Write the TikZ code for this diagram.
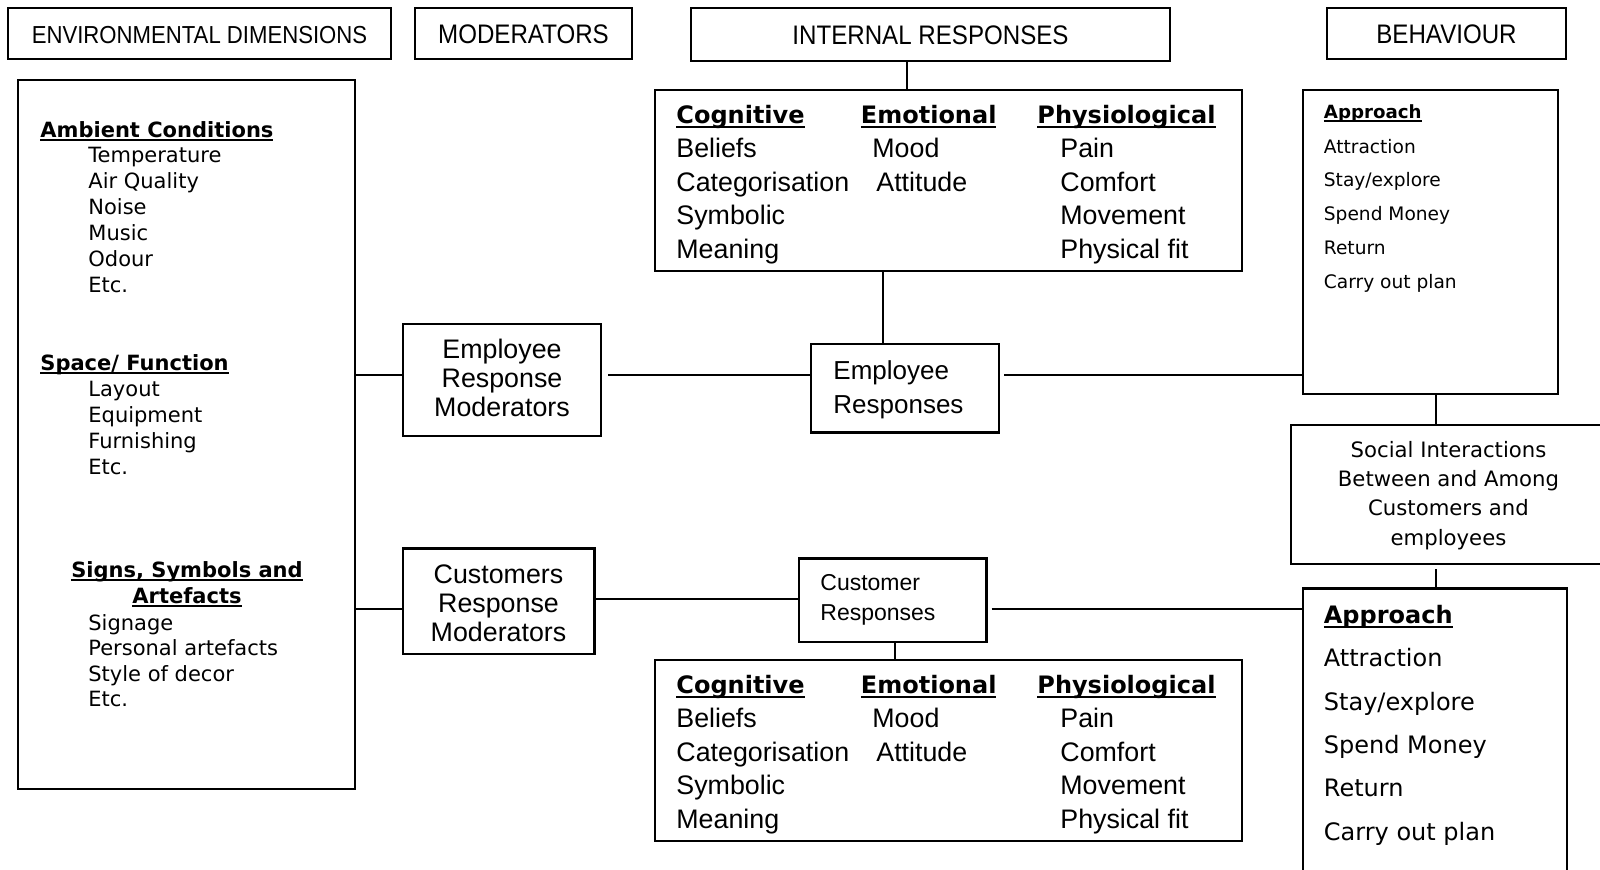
\documentclass[tikz,border=0pt]{standalone}
\usepackage{fontspec}
\setmainfont{DejaVu Sans}
\newfontfamily\arialf{Liberation Sans}
\newfontfamily\narrowf[FakeStretch=0.9]{Liberation Sans}
\usetikzlibrary{fit}
% underline drawn as a rule sized to the current font
\newcommand\ulbox[1]{\setbox0=\hbox{#1}\rlap{\rule[-0.17em]{\wd0}{0.085em}}\box0}
\newcommand\fs[1]{\fontsize{#1}{#1}\selectfont}
\begin{document}
\begin{tikzpicture}[x=0.5pt, y=-0.5pt,
  box/.style={draw, line width=1.1pt, inner sep=0pt},
  conn/.style={line width=1.1pt},
  lt/.style={inner sep=0pt, anchor=base west},
  ct/.style={inner sep=0pt, anchor=base},
  title/.style={ct, font=\narrowf\fs{13.4pt}},
  envhd/.style={lt, font=\bfseries\fs{10.5pt}},
  envit/.style={lt, font=\fs{10.5pt}},
  colhead/.style={lt, font=\bfseries\fs{12pt}},
  colitem/.style={lt, font=\arialf\fs{13.4pt}},
  modtxt/.style={ct, font=\arialf\fs{13.4pt}},
]
\useasboundingbox (0,0) rectangle (1600,869);
\clip (0,0) rectangle (1600,869);

% ---- column headers ----
\node[box, fit={(8,8) (391,59)}] (envhead) {};
\node[title, font=\narrowf\fs{12.3pt}] (envtitle) at (199.5,43) {ENVIRONMENTAL DIMENSIONS};
\node[box, fit={(415,8) (632,59)}] (modhead) {};
\node[title] (modtitle) at (523.5,43) {MODERATORS};
\node[box, fit={(691,8) (1170,61)}] (inthead) {};
\node[title] (inttitle) at (930.5,44) {INTERNAL RESPONSES};
\node[box, fit={(1327,8) (1566,59)}] (behhead) {};
\node[title] (behtitle) at (1446.5,43) {BEHAVIOUR};

% ---- environmental dimensions ----
\node[box, fit={(18,80) (355,789)}] (env) {};
\node[envhd] (ambhd) at (40,137) {\ulbox{Ambient Conditions}};
\foreach \t [count=\i from 0] in {Temperature, Air Quality, Noise, Music, Odour, Etc.}
  \node[envit] (amb\i) at (88,{162.7+25.9*\i}) {\t};
\node[envhd] (spchd) at (40,370.5) {\ulbox{Space/ Function}};
\foreach \t [count=\i from 0] in {Layout, Equipment, Furnishing, Etc.}
  \node[envit] (spc\i) at (88,{396.4+25.9*\i}) {\t};
\node[envhd, anchor=base] (sgnhd) at (187,577.5) {\ulbox{Signs, Symbols and}};
\node[envhd, anchor=base] (sgnhdb) at (187,603.3) {\ulbox{Artefacts}};
\foreach \t [count=\i from 0] in {Signage, Personal artefacts, Style of decor, Etc.}
  \node[envit] (sgn\i) at (88,{630+25.6*\i}) {\t};

% ---- moderators ----
\node[box, fit={(403,324) (601,436)}] (empmod) {};
\node[modtxt] (empmod0) at (502,358) {Employee};
\node[modtxt] (empmod1) at (502,387) {Response};
\node[modtxt] (empmod2) at (502,416) {Moderators};
\node[box, fit={(403,548.5) (594.5,654.3)}] (custmod) {};
\node[modtxt] (custmod0) at (498.5,583) {Customers};
\node[modtxt] (custmod1) at (498.5,612.5) {Response};
\node[modtxt] (custmod2) at (498.5,641.5) {Moderators};

% ---- responses ----
\node[box, fit={(811,344) (998.6,432.5)}] (empresp) {};
\node[lt, font=\arialf\fs{13pt}] (empresp0) at (833,379.5) {Employee};
\node[lt, font=\arialf\fs{13pt}] (empresp1) at (833,413) {Responses};
\node[box, fit={(799,558.5) (986.5,642.3)}] (custresp) {};
\node[lt, font=\arialf\fs{11.5pt}] (custresp0) at (820,590.5) {Customer};
\node[lt, font=\arialf\fs{11.5pt}] (custresp1) at (820,620) {Responses};

% ---- internal response tables ----
\foreach \o/\p in {0/top, 570/bot}{
  \node[box, fit={(655,{90+\o}) (1242,{271+\o})}] (int\p) {};
  \node[colhead] (cog\p) at (676,{123.5+\o}) {\ulbox{Cognitive}};
  \node[colhead] (emo\p) at (860.5,{123.5+\o}) {\ulbox{Emotional}};
  \node[colhead] (phy\p) at (1037,{123.5+\o}) {\ulbox{Physiological}};
  \foreach \t [count=\i from 0] in {Beliefs, Categorisation, Symbolic, Meaning}
    \node[colitem] (cogi\p\i) at (676,{157.5+\o+33.6*\i}) {\t};
  \node[colitem] (emoi\p0) at (872,{157.5+\o}) {Mood};
  \node[colitem] (emoi\p1) at (876,{191.1+\o}) {Attitude};
  \foreach \t [count=\i from 0] in {Pain, Comfort, Movement, Physical fit}
    \node[colitem] (phyi\p\i) at (1060,{157.5+\o+33.6*\i}) {\t};
}

% ---- behaviour ----
\node[box, fit={(1303,90) (1558,394)}] (apptop) {};
\node[lt, font=\bfseries\fs{9.1pt}] (apptophd) at (1323.5,118.5) {\ulbox{Approach}};
\foreach \t [count=\i from 0] in {Attraction, Stay/explore, Spend Money, Return, Carry out plan}
  \node[lt, font=\fs{9.3pt}] (apptop\i) at (1323.5,{153+33.8*\i}) {\t};

\node[box, fit={(1291,425) (1620,564.3)}] (social) {};
\foreach \t [count=\i from 0] in {Social Interactions, Between and Among, Customers and, employees}
  \node[ct, font=\fs{10.6pt}] (social\i) at (1448.5,{457.3+29.3*\i}) {\t};

\node[box, fit={(1303,588.5) (1567,885)}] (appbot) {};
\node[lt, font=\bfseries\fs{12pt}] (appbothd) at (1323.5,623.5) {\ulbox{Approach}};
\foreach \t [count=\i from 0] in {Attraction, Stay/explore, Spend Money, Return, Carry out plan}
  \node[lt, font=\fs{12pt}] (appbot\i) at (1323.5,{666.8+43.3*\i}) {\t};

% ---- connectors ----
\coordinate (ya) at (0,375);
\coordinate (yb) at (0,609);
\coordinate (yc) at (0,599);
\coordinate (xa) at (907,0);
\coordinate (xb) at (883,0);
\coordinate (xc) at (1436,0);
\coordinate (xd) at (895,0);
\draw[conn] (inthead.south -| xa) -- (inttop.north -| xa);
\draw[conn] (inttop.south -| xb) -- (empresp.north -| xb);
\draw[conn] (env.east |- ya) -- (empmod.west |- ya);
\draw[conn, shorten <=3pt] (empmod.east |- ya) -- (empresp.west |- ya);
\draw[conn, shorten <=2.2pt] (empresp.east |- ya) -- (apptop.west |- ya);
\draw[conn] (apptop.south -| xc) -- (social.north -| xc);
\draw[conn, shorten <=2pt] (social.south -| xc) -- (appbot.north -| xc);
\draw[conn] (env.east |- yb) -- (custmod.west |- yb);
\draw[conn] (custmod.east |- yc) -- (custresp.west |- yc);
\draw[conn, shorten <=2pt] (custresp.east |- yb) -- (appbot.west |- yb);
\draw[conn] (custresp.south -| xd) -- (intbot.north -| xd);
\end{tikzpicture}
\end{document}
